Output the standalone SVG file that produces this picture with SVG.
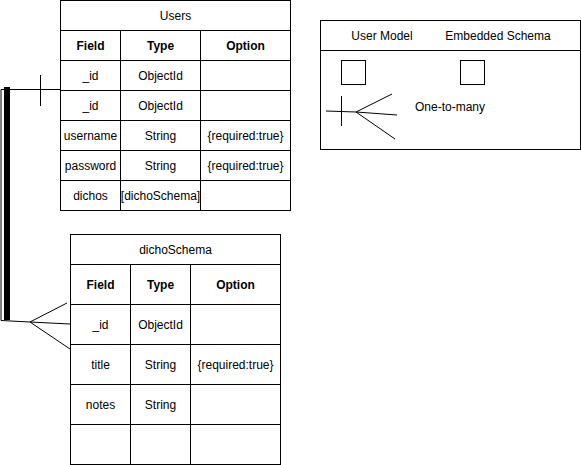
<svg xmlns="http://www.w3.org/2000/svg" width="581" height="465" viewBox="0 0 581 465">
<style>
text{font-family:"Liberation Sans",Arial,sans-serif;font-size:12px;fill:#000;text-anchor:middle;dominant-baseline:central}
.b{font-weight:bold}
.cell{fill:#fff;stroke:#000;stroke-width:1}
.ln{fill:none;stroke:#000;stroke-width:1}
</style>
<rect width="581" height="465" fill="#fff"/>
<g id="connectors">
<path class="ln" d="M60,89.5 L1,89.5 L1,320.5 L30,322 L70,324"/>
<rect x="4" y="87" width="6" height="233" fill="#000"/>
<line class="ln" x1="40.5" y1="75" x2="40.5" y2="106"/>
<line class="ln" x1="30" y1="322" x2="67" y2="303"/>
<line class="ln" x1="30" y1="322" x2="70" y2="349"/>
</g>
<g id="users">
<rect class="cell" x="60.5" y="0.5" width="230" height="30"/>
<text x="175.5" y="16">Users</text>
<g>
<rect class="cell" x="60.5" y="30.5" width="60" height="30"/>
<rect class="cell" x="120.5" y="30.5" width="80" height="30"/>
<rect class="cell" x="200.5" y="30.5" width="90" height="30"/>
<text class="b" x="90.5" y="45.5">Field</text>
<text class="b" x="160.5" y="45.5">Type</text>
<text class="b" x="245.5" y="45.5">Option</text>
</g>
<g>
<rect class="cell" x="60.5" y="60.5" width="60" height="30"/>
<rect class="cell" x="120.5" y="60.5" width="80" height="30"/>
<rect class="cell" x="200.5" y="60.5" width="90" height="30"/>
<text x="90.5" y="75.5">_id</text>
<text x="160.5" y="75.5">ObjectId</text>
</g>
<g>
<rect class="cell" x="60.5" y="90.5" width="60" height="30"/>
<rect class="cell" x="120.5" y="90.5" width="80" height="30"/>
<rect class="cell" x="200.5" y="90.5" width="90" height="30"/>
<text x="90.5" y="105.5">_id</text>
<text x="160.5" y="105.5">ObjectId</text>
</g>
<g>
<rect class="cell" x="60.5" y="120.5" width="60" height="30"/>
<rect class="cell" x="120.5" y="120.5" width="80" height="30"/>
<rect class="cell" x="200.5" y="120.5" width="90" height="30"/>
<text x="90.5" y="135.5">username</text>
<text x="160.5" y="135.5">String</text>
<text x="245.5" y="135.5">{required:true}</text>
</g>
<g>
<rect class="cell" x="60.5" y="150.5" width="60" height="30"/>
<rect class="cell" x="120.5" y="150.5" width="80" height="30"/>
<rect class="cell" x="200.5" y="150.5" width="90" height="30"/>
<text x="90.5" y="165.5">password</text>
<text x="160.5" y="165.5">String</text>
<text x="245.5" y="165.5">{required:true}</text>
</g>
<g>
<rect class="cell" x="60.5" y="180.5" width="60" height="30"/>
<rect class="cell" x="120.5" y="180.5" width="80" height="30"/>
<rect class="cell" x="200.5" y="180.5" width="90" height="30"/>
<text x="90.5" y="195.5">dichos</text>
<text x="160.5" y="195.5">[dichoSchema]</text>
</g>
</g>
<g id="dichoSchema">
<rect class="cell" x="70.5" y="234.5" width="210" height="30"/>
<text x="175.5" y="250">dichoSchema</text>
<g>
<rect class="cell" x="70.5" y="264.5" width="60" height="40"/>
<rect class="cell" x="130.5" y="264.5" width="60" height="40"/>
<rect class="cell" x="190.5" y="264.5" width="90" height="40"/>
<text class="b" x="100.5" y="284.5">Field</text>
<text class="b" x="160.5" y="284.5">Type</text>
<text class="b" x="235.5" y="284.5">Option</text>
</g>
<g>
<rect class="cell" x="70.5" y="304.5" width="60" height="40"/>
<rect class="cell" x="130.5" y="304.5" width="60" height="40"/>
<rect class="cell" x="190.5" y="304.5" width="90" height="40"/>
<text x="100.5" y="324.5">_id</text>
<text x="160.5" y="324.5">ObjectId</text>
</g>
<g>
<rect class="cell" x="70.5" y="344.5" width="60" height="40"/>
<rect class="cell" x="130.5" y="344.5" width="60" height="40"/>
<rect class="cell" x="190.5" y="344.5" width="90" height="40"/>
<text x="100.5" y="364.5">title</text>
<text x="160.5" y="364.5">String</text>
<text x="235.5" y="364.5">{required:true}</text>
</g>
<g>
<rect class="cell" x="70.5" y="384.5" width="60" height="40"/>
<rect class="cell" x="130.5" y="384.5" width="60" height="40"/>
<rect class="cell" x="190.5" y="384.5" width="90" height="40"/>
<text x="100.5" y="404.5">notes</text>
<text x="160.5" y="404.5">String</text>
</g>
<g>
<rect class="cell" x="70.5" y="424.5" width="60" height="40"/>
<rect class="cell" x="130.5" y="424.5" width="60" height="40"/>
<rect class="cell" x="190.5" y="424.5" width="90" height="40"/>
</g>
</g>
<g id="legend">
<rect class="cell" x="320.5" y="20.5" width="260" height="129"/>
<line class="ln" x1="320.5" y1="50.5" x2="580.5" y2="50.5"/>
<text x="382" y="36">User Model</text>
<text x="498" y="36">Embedded Schema</text>
<rect class="cell" x="341.5" y="60.5" width="24" height="24"/>
<rect class="cell" x="460.5" y="60.5" width="24" height="24"/>
<path class="ln" d="M326,111 L356,112 L397,115"/>
<line class="ln" x1="341.5" y1="96" x2="341.5" y2="126"/>
<line class="ln" x1="356" y1="112" x2="392" y2="94"/>
<line class="ln" x1="356" y1="112" x2="395" y2="139"/>
<text x="415" y="107" style="text-anchor:start">One-to-many</text>
</g>
</svg>
